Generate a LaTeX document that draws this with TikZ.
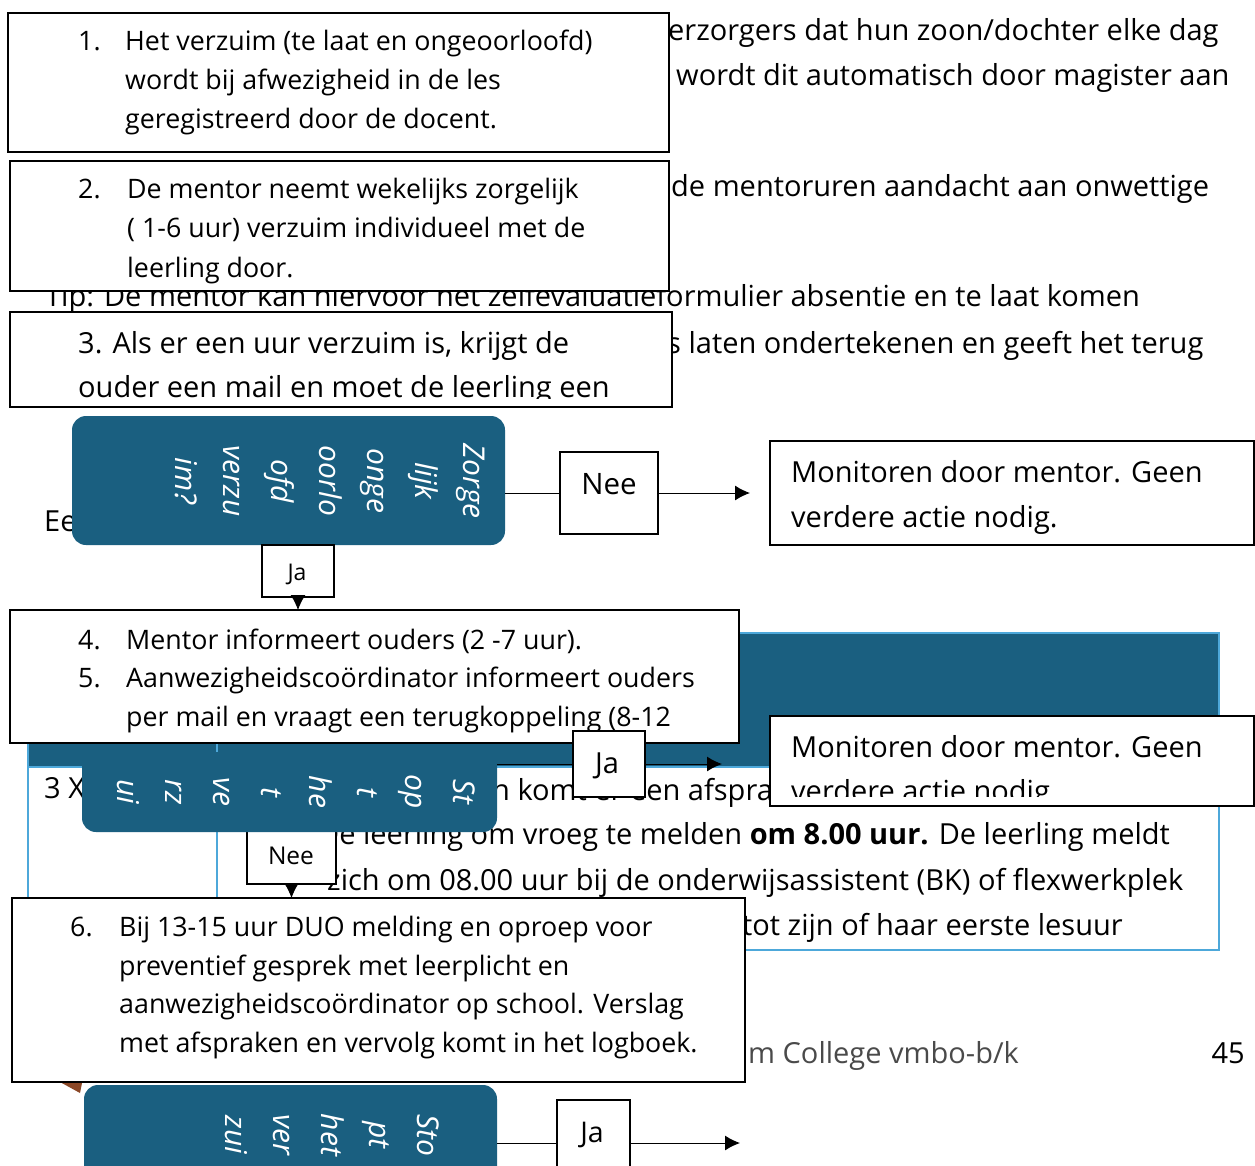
\documentclass[tikz,border=0pt]{standalone}
\usepackage{fontspec}
\setmainfont{Open Sans}
\usetikzlibrary{arrows.meta}
\definecolor{teal1}{HTML}{1A5F80}
\definecolor{lblue}{HTML}{4DA8DA}
\definecolor{brown1}{HTML}{8B4726}
\definecolor{foot}{HTML}{4A4A4A}
\newcommand\mkbox[6]{%
  \pgfmathsetmacro\mkbw{#5-#3}%
  \pgfmathsetmacro\mkbh{#6-#4}%
  \node[#2,minimum width=\mkbw pt,minimum height=\mkbh pt,anchor=north west,inner sep=0pt,outer sep=0pt] (#1) at (#3,#4) {};}
\begin{document}
\begin{tikzpicture}[x=1pt,y=-1pt,
 wbox/.style={draw=black,line width=1.6pt,fill=white},
 tealbox/.style={fill=teal1,rounded corners=14pt},
 bg/.style={font=\fontsize{29}{45}\selectfont,inner sep=0pt,anchor=base west},
 bt/.style={font=\fontsize{26.8}{39}\selectfont,inner sep=0pt,anchor=base west},
 vt/.style={font=\fontsize{30}{48}\selectfont\itshape,text=white,rotate=-90,align=center,inner sep=0pt},
 lab/.style={inner sep=0pt,anchor=base},
 conn/.style={line width=1pt},
 arr/.style={line width=1pt,-{Latex[length=15pt,width=15pt]}}
]
\useasboundingbox (0,0) rectangle (1255,1165);
\clip (0,0) rectangle (1255,1165);
\fill[white] (0,0) rectangle (1255,1165);
% background page text
\node[bg] (p1) at (668,40) {erzorgers dat hun zoon/dochter elke dag};
\node[bg] (p2) at (676,85) {wordt dit automatisch door magister aan};
\node[bg] (p3) at (671,196) {de mentoruren aandacht aan onwettige};
\node[bg] (p4) at (45,306) {Tip: De mentor kan hiervoor het zelfevaluatieformulier absentie en te laat komen};
\node[bg] (p5) at (667,353) {s laten ondertekenen en geeft het terug};
\node[bg] (p6) at (44,531) {Ee};
% table
\fill[teal1] (28,633) rectangle (1219,767);
\draw[lblue,line width=2pt] (28,633) rectangle (1219,950);
\draw[lblue,line width=2pt] (28,767) -- (1219,767);
\draw[lblue,line width=1.5pt] (217,633) -- (217,950);
\node[bg] (t1) at (44,798) {3 X};
\node[bg] (t2) at (492,800) {n komt er een afspraak};
\node[bg] (t3) at (318,844) {De leerling om vroeg te melden \textbf{om 8.00 uur.} De leerling meldt};
\node[bg] (t4) at (327,890) {zich om 08.00 uur bij de onderwijsassistent (BK) of flexwerkplek};
\node[bg] (t5) at (742,935) {tot zijn of haar eerste lesuur};
\node[bg,text=foot] (f1) at (748,1063) {m College vmbo-b/k};
\node[bg,anchor=base east] (f2) at (1245,1063) {45};
\fill[brown1] (60,1082) -- (82,1083) -- (80,1093) -- cycle;
% Nee box under teal box 2
\mkbox{nee2}{wbox}{247}{815}{336}{884}
\node[lab,font=\fontsize{24.5}{28}\selectfont] (nee2t) at (291,864) {Nee};
% teal decision boxes
\mkbox{tb1}{tealbox}{72}{416}{505}{545}
\node[vt,anchor=north] (v1) at (485,481) {Zorge\\lijk\\onge\\oorlo\\ofd\\verzu\\im?};
\mkbox{tb2}{tealbox}{82}{752}{497}{832}
\node[vt,anchor=north] (v2) at (475,792) {St\\op\\t\\he\\t\\ve\\rz\\ui};
\mkbox{tb3}{tealbox}{84}{1085}{497}{1190}
\node[vt,anchor=north] (v3) at (439,1135) {Sto\\pt\\het\\ver\\zui};
% box A
\mkbox{bA}{wbox}{8}{13}{669}{152}
\node[bt] (a0) at (78,50) {1.};
\node[bt] (a1) at (125,50) {Het verzuim (te laat en ongeoorloofd)};
\node[bt] (a2) at (125,89) {wordt bij afwezigheid in de les};
\node[bt] (a3) at (125,128) {geregistreerd door de docent.};
% box B
\mkbox{bB}{wbox}{10}{161}{669}{291}
\begin{scope}
\clip (10,161) rectangle (669,283);
\node[bt] (b0) at (78,198) {2.};
\node[bt] (b1) at (127,198) {De mentor neemt wekelijks zorgelijk};
\node[bt] (b2) at (127,237) {( 1-6 uur) verzuim individueel met de};
\node[bt] (b3) at (127,277) {leerling door.};
\end{scope}
% box C
\mkbox{bC}{wbox}{10}{312}{672}{407}
\begin{scope}
\clip (10,312) rectangle (672,398);
\node[bg] (c1) at (78,353) {3. Als er een uur verzuim is, krijgt de};
\node[bg] (c2) at (78,397) {ouder een mail en moet de leerling een};
\end{scope}
% box D
\mkbox{bD}{wbox}{10}{610}{739}{743}
\node[bt] (d0) at (78,649) {4.};
\node[bt] (d1) at (126,649) {Mentor informeert ouders (2 -7 uur).};
\node[bt] (d2) at (78,687) {5.};
\node[bt] (d3) at (126,687) {Aanwezigheidscoördinator informeert ouders};
\node[bt] (d4) at (126,726) {per mail en vraagt een terugkoppeling (8-12};
% box E
\mkbox{bE}{wbox}{12}{898}{745}{1082}
\node[bt] (e0) at (70,936) {6.};
\node[bt] (e1) at (119,936) {Bij 13-15 uur DUO melding en oproep voor};
\node[bt] (e2) at (119,975) {preventief gesprek met leerplicht en};
\node[bt] (e3) at (119,1013) {aanwezigheidscoördinator op school. Verslag};
\node[bt] (e4) at (119,1052) {met afspraken en vervolg komt in het logboek.};
% answer boxes
\mkbox{nee1}{wbox}{560}{452}{658}{534}
\node[lab,font=\fontsize{29.5}{33}\selectfont] (nee1t) at (609,494) {Nee};
\mkbox{mon1}{wbox}{770}{441}{1254}{545}
\node[bg] (m1a) at (791,482) {Monitoren door mentor. Geen};
\node[bg] (m1b) at (791,527) {verdere actie nodig.};
\mkbox{ja1}{wbox}{262}{545}{334}{597}
\node[lab,font=\fontsize{23}{26}\selectfont] (ja1t) at (297,580) {Ja};
\mkbox{ja2}{wbox}{573}{731}{645}{797}
\node[lab,font=\fontsize{29}{33}\selectfont] (ja2t) at (607,773) {Ja};
\mkbox{mon2}{wbox}{770}{716}{1254}{806}
\begin{scope}
\clip (770,716) rectangle (1254,796);
\node[bg] (m2a) at (791,757) {Monitoren door mentor. Geen};
\node[bg] (m2b) at (791,801) {verdere actie nodig.};
\end{scope}
\mkbox{ja3}{wbox}{557}{1100}{630}{1186}
\node[lab,font=\fontsize{28.5}{33}\selectfont] (ja3t) at (592,1142) {Ja};
% connectors
\draw[conn] (tb1.east |- nee1.west) -- (nee1.west);
\coordinate (x1) at (750,493);
\draw[arr] (nee1.east) -- (x1);
\draw[arr] (ja1.south) -- (ja1.south |- bD.north);
\draw[conn] (tb2.east |- ja2.west) -- (ja2.west);
\coordinate (x2) at (722,764);
\draw[arr] (ja2.east) -- (x2);
\draw[arr] (nee2.south) -- (nee2.south |- bE.north);
\draw[conn] (tb3.east |- ja3.west) -- (ja3.west);
\coordinate (x3) at (740,1143);
\draw[arr] (ja3.east) -- (x3);
\end{tikzpicture}
\end{document}
